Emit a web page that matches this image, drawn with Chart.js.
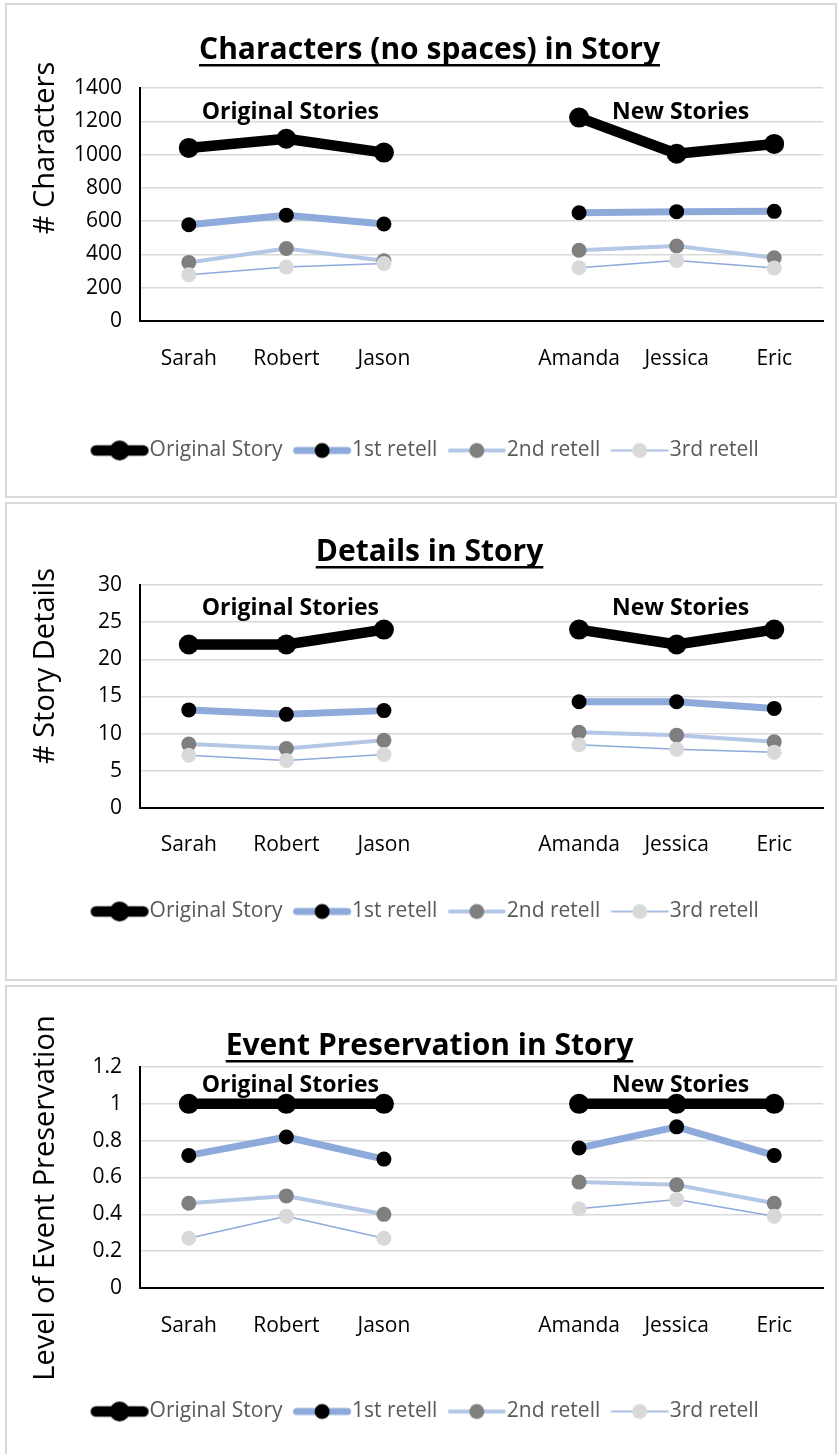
<!DOCTYPE html>
<html>
<head>
<meta charset="utf-8">
<script src="https://cdn.jsdelivr.net/npm/chart.js@4.4.1/dist/chart.umd.min.js"></script>
<style>
    body { margin: 0; background: #fff; width: 839px; height: 1454px; overflow: hidden; position: relative; }
    .panel { position: absolute; left: 0; width: 839px; }
    .panel canvas { position: absolute; left: 0; top: 0; }
    .frame { position: absolute; border: 2px solid #d9d9d9; box-sizing: border-box; pointer-events: none; }
</style>
</head>
<body>
<div class="panel" style="top:0;height:500px"><canvas id="charsChart" width="839" height="500"></canvas></div>
<div class="panel" style="top:500px;height:483px"><canvas id="detailsChart" width="839" height="483"></canvas></div>
<div class="panel" style="top:983px;height:471px"><canvas id="eventsChart" width="839" height="471"></canvas></div>
<div class="frame" style="left:5px;top:3px;width:832px;height:495px"></div>
<div class="frame" style="left:5px;top:502px;width:832px;height:479px"></div>
<div class="frame" style="left:5px;top:985px;width:832px;height:480px"></div>
<script>
// story names, '' is the empty slot between the two groups
const storyNames = ['Sarah', 'Robert', 'Jason', '', 'Amanda', 'Jessica', 'Eric'];
const seriesNames = ['Original Story', '1st retell', '2nd retell', '3rd retell'];
const groupNames = ['Original Stories', 'New Stories'];
const groupAnchors = [1, 5];

// Characters (no spaces)
const charsOriginal = [1040, 1095, 1012, null, 1222, 1005, 1064];
const chars1st = [578, 636, 583, null, 650, 657, 659];
const chars2nd = [352, 436, 362, null, 425, 451, 380];
const chars3rd = [278, 324, 346, null, 320, 364, 318];

// Story details
const detailsOriginal = [22, 22, 24, null, 24, 22, 24];
const details1st = [13.2, 12.6, 13.1, null, 14.3, 14.3, 13.4];
const details2nd = [8.6, 8.0, 9.1, null, 10.2, 9.8, 8.9];
const details3rd = [7.1, 6.4, 7.2, null, 8.5, 7.9, 7.5];

// Event preservation
const eventsOriginal = [1, 1, 1, null, 1, 1, 1];
const events1st = [0.72, 0.82, 0.70, null, 0.76, 0.875, 0.72];
const events2nd = [0.46, 0.50, 0.40, null, 0.575, 0.56, 0.46];
const events3rd = [0.27, 0.39, 0.27, null, 0.43, 0.48, 0.39];

const seriesStyles = [
    { line: '#000000', width: 10.5, dot: '#000000', radius: 10 },
    { line: '#8eaadb', width: 7, dot: '#000000', radius: 7.5 },
    { line: '#b4c7e7', width: 4, dot: '#7f7f7f', radius: 7.5 },
    { line: '#8eaadb', width: 1.5, dot: '#d9d9d9', radius: 7.5 }
];

const FONT = '"Open Sans", "Noto Sans", sans-serif';

function makeLegendIcon(style) {
    const c = document.createElement('canvas');
    c.width = 60;
    c.height = 22;
    const g = c.getContext('2d');
    g.strokeStyle = style.line;
    g.lineWidth = style.width;
    g.lineCap = 'round';
    g.beginPath();
    g.moveTo(style.width / 2 + 1, 11);
    g.lineTo(59 - style.width / 2, 11);
    g.stroke();
    g.fillStyle = style.dot;
    g.beginPath();
    g.arc(30, 11, style.radius, 0, Math.PI * 2);
    g.fill();
    return c;
}
const legendIcons = seriesStyles.map(makeLegendIcon);

// underlined chart title, y axis title and the two group captions
const decorPlugin = {
    id: 'decor',
    afterDraw(chart, args, opts) {
        const ctx = chart.ctx;
        const area = chart.chartArea;
        ctx.save();
        ctx.fillStyle = '#000';

        ctx.font = 'bold ' + opts.titleSize + 'px ' + FONT;
        ctx.textAlign = 'center';
        ctx.textBaseline = 'alphabetic';
        const tx = chart.width / 2 + 10;
        const ty = area.top - opts.titleGap;
        ctx.fillText(opts.title, tx, ty);
        const tw = ctx.measureText(opts.title).width;
        ctx.fillRect(tx - tw / 2, ty + 5, tw, 2.5);

        ctx.save();
        ctx.translate(46, opts.axisTitleY);
        ctx.rotate(-Math.PI / 2);
        ctx.font = opts.axisTitleSize + 'px ' + FONT;
        ctx.textBaseline = 'middle';
        ctx.fillText(opts.axisTitle, 0, 0);
        ctx.restore();

        ctx.font = 'bold 23px ' + FONT;
        ctx.textBaseline = 'middle';
        const xs = chart.scales.x, ys = chart.scales.y;
        groupNames.forEach((name, i) => {
            ctx.fillText(name, xs.getPixelForValue(groupAnchors[i]) + 4, ys.getPixelForValue(opts.groupY));
        });
        ctx.restore();
    }
};

function buildChart(id, series, cfg) {
    return new Chart(document.getElementById(id), {
        type: 'line',
        data: {
            labels: storyNames,
            datasets: series.map((values, i) => ({
                label: seriesNames[i],
                data: values,
                borderColor: seriesStyles[i].line,
                borderWidth: seriesStyles[i].width,
                pointRadius: seriesStyles[i].radius,
                pointBackgroundColor: seriesStyles[i].dot,
                pointBorderWidth: 0,
                borderJoinStyle: 'round',
                borderCapStyle: 'round',
                spanGaps: false,
                order: 3 - i
            }))
        },
        options: {
            responsive: false,
            animation: false,
            layout: { padding: { left: 36, right: 16, top: cfg.top, bottom: cfg.bottom } },
            plugins: {
                legend: {
                    position: 'bottom',
                    labels: {
                        usePointStyle: true,
                        pointStyleWidth: 39,
                        padding: 20,
                        color: '#595959',
                        font: { family: FONT, size: 21 },
                        sort: (a, b) => a.datasetIndex - b.datasetIndex,
                        generateLabels: chart => Chart.defaults.plugins.legend.labels.generateLabels(chart)
                            .map(item => ({ ...item, pointStyle: legendIcons[item.datasetIndex] }))
                    }
                },
                tooltip: { enabled: false },
                decor: cfg.decor
            },
            scales: {
                x: {
                    offset: true,
                    grid: { display: true, drawOnChartArea: false, drawTicks: false },
                    border: { display: true, color: '#000', width: 2 },
                    ticks: { color: '#000', padding: cfg.xPad, font: { family: FONT, size: 21 }, maxRotation: 0, autoSkip: false },
                    afterFit: s => { s.height = cfg.xAxis; }
                },
                y: {
                    min: 0,
                    max: cfg.max,
                    grid: { color: '#d9d9d9', lineWidth: 1.5, drawTicks: false },
                    border: { display: true, color: '#000', width: 2 },
                    ticks: {
                        stepSize: cfg.step, color: '#000', padding: 18, font: { family: FONT, size: 21 },
                        callback: v => String(+v.toFixed(2))
                    },
                    afterFit: s => { s.width = 104; }
                }
            }
        },
        plugins: [decorPlugin]
    });
}

buildChart('charsChart', [charsOriginal, chars1st, chars2nd, chars3rd], {
    top: 88, bottom: 29, xAxis: 99, xPad: 25, max: 1400, step: 200,
    decor: { title: 'Characters (no spaces) in Story', titleSize: 30, titleGap: 29,
             axisTitle: '# Characters', axisTitleSize: 29, axisTitleY: 148, groupY: 1255 }
});
buildChart('detailsChart', [detailsOriginal, details1st, details2nd, details3rd], {
    top: 85, bottom: 51, xAxis: 73, xPad: 24, max: 30, step: 5,
    decor: { title: 'Details in Story', titleSize: 30, titleGap: 24,
             axisTitle: '# Story Details', axisTitleSize: 29, axisTitleY: 166, groupY: 26.8 }
});
buildChart('eventsChart', [eventsOriginal, events1st, events2nd, events3rd], {
    top: 84, bottom: 22, xAxis: 93, xPad: 25, max: 1.2, step: 0.2,
    decor: { title: 'Event Preservation in Story', titleSize: 30, titleGap: 12,
             axisTitle: 'Level of Event Preservation', axisTitleSize: 29, axisTitleY: 215, groupY: 1.1 }
});
</script>
</body>
</html>
